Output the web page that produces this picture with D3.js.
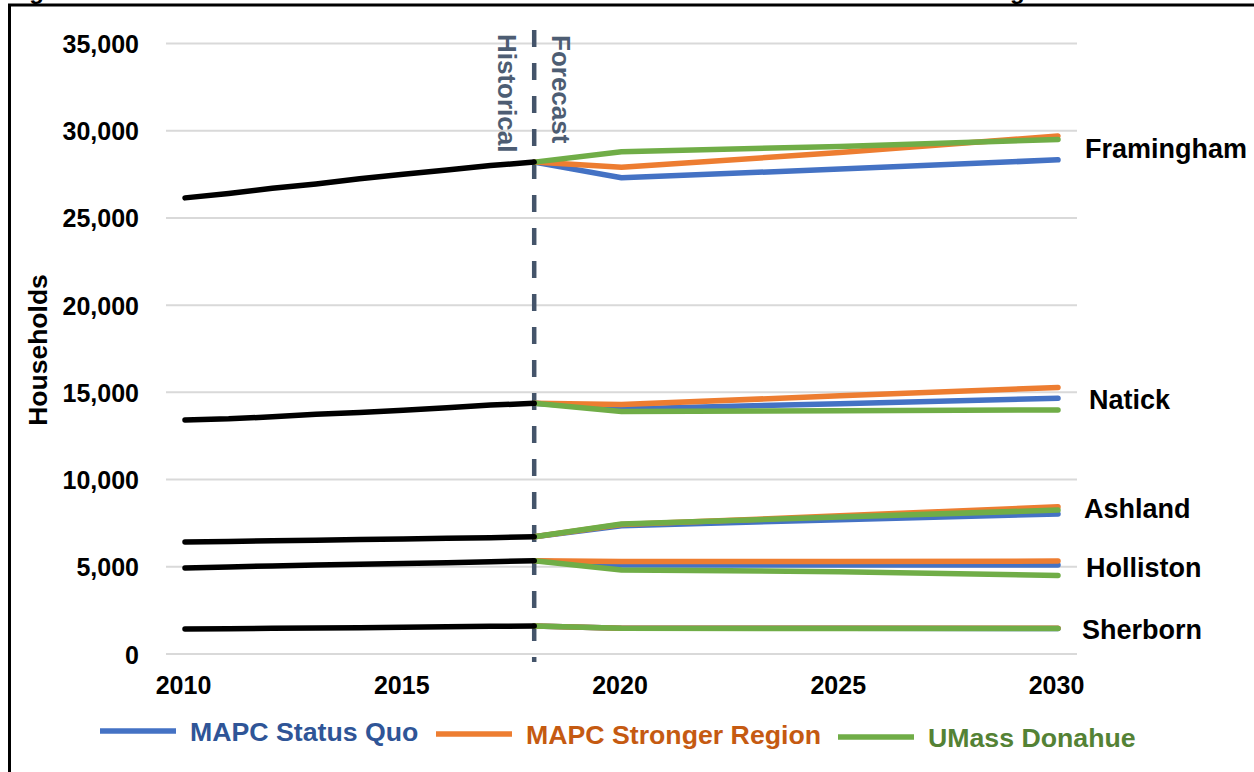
<!DOCTYPE html>
<html>
<head>
<meta charset="utf-8">
<script src="https://cdn.jsdelivr.net/npm/d3@7"></script>
<style>
  html, body { margin: 0; padding: 0; background: #fff; }
  svg { display: block; font-family: "Liberation Sans", Arial, sans-serif; }
</style>
</head>
<body>
<svg id="chart" width="1254" height="772"></svg>
<script>
// Historical household counts (2010–2018)
const histYears = [2010, 2011, 2012, 2013, 2014, 2015, 2016, 2017, 2018];
const framinghamHist = [26150, 26400, 26700, 26950, 27250, 27500, 27750, 28000, 28200];
const natickHist     = [13420, 13480, 13600, 13750, 13850, 13980, 14120, 14270, 14370];
const ashlandHist    = [6420, 6450, 6490, 6520, 6560, 6600, 6630, 6670, 6720];
const hollistonHist  = [4930, 4990, 5050, 5100, 5150, 5190, 5230, 5290, 5350];
const sherbornHist   = [1430, 1450, 1470, 1490, 1510, 1530, 1560, 1590, 1600];

// Forecast years and scenario values
const fcYears = [2018, 2020, 2025, 2030];
const framinghamSQ   = [28200, 27300, 27800, 28330];
const framinghamSR   = [28200, 27900, 28750, 29700];
const framinghamUM   = [28200, 28800, 29100, 29500];
const natickSQ       = [14370, 14050, 14350, 14660];
const natickSR       = [14370, 14300, 14800, 15280];
const natickUM       = [14370, 13900, 13950, 13990];
const ashlandSQ      = [6720, 7350, 7700, 8030];
const ashlandSR      = [6720, 7420, 7920, 8440];
const ashlandUM      = [6720, 7450, 7850, 8250];
const hollistonSQ    = [5350, 5100, 5100, 5100];
const hollistonSR    = [5350, 5300, 5300, 5330];
const hollistonUM    = [5350, 4820, 4720, 4500];
const sherbornSQ     = [1600, 1470, 1470, 1460];
const sherbornSR     = [1600, 1480, 1480, 1470];
const sherbornUM     = [1600, 1470, 1460, 1460];

const towns = ["Framingham", "Natick", "Ashland", "Holliston", "Sherborn"];
const scenarios = ["MAPC Status Quo", "MAPC Stronger Region", "UMass Donahue"];
const yTicks = [0, 5000, 10000, 15000, 20000, 25000, 30000, 35000];
const xTicks = [2010, 2015, 2020, 2025, 2030];
const splitYear = 2018;

const histSeries = [framinghamHist, natickHist, ashlandHist, hollistonHist, sherbornHist];
const fcSeries = [
  [framinghamSQ, framinghamSR, framinghamUM],
  [natickSQ, natickSR, natickUM],
  [ashlandSQ, ashlandSR, ashlandUM],
  [hollistonSQ, hollistonSR, hollistonUM],
  [sherbornSQ, sherbornSR, sherbornUM]
];

const lineColors = ["#4472C4", "#ED7D31", "#70AD47"];
const textColors = ["#2F5597", "#C55A11", "#548235"];

const svg = d3.select("#chart");

// Title sits above the frame and is clipped by the top edge
svg.append("text")
  .attr("x", 8).attr("y", -1)
  .attr("font-size", 24).attr("font-weight", "bold").attr("fill", "#000")
  .text("Figure 15: Historical and Forecasted Total Number of Households in the Town of Framingham");

// Frame
svg.append("rect")
  .attr("x", 9.5).attr("y", 5).attr("width", 1300).attr("height", 800)
  .attr("fill", "none").attr("stroke", "#000").attr("stroke-width", 3);

const x = d3.scaleLinear().domain([2010, 2030]).range([185, 1058]);
const y = d3.scaleLinear().domain([0, 35000]).range([654, 43.5]);
const gridLeft = 166, gridRight = 1077;

// Horizontal gridlines
svg.append("g").selectAll("line").data(yTicks).join("line")
  .attr("x1", gridLeft).attr("x2", gridRight)
  .attr("y1", d => y(d)).attr("y2", d => y(d))
  .attr("stroke", "#D9D9D9").attr("stroke-width", 2);

// Y axis labels
const yAxis = d3.axisLeft(y).tickValues(yTicks).tickSize(0).tickPadding(0)
  .tickFormat(d3.format(","));
const yg = svg.append("g").attr("transform", "translate(139,0)").call(yAxis);
yg.select(".domain").remove();
yg.selectAll("text").attr("font-size", 25).attr("font-weight", "bold")
  .attr("fill", "#000").attr("font-family", "Liberation Sans, Arial, sans-serif")
  .attr("dy", "0.36em");

// X axis labels
const xAxis = d3.axisBottom(x).tickValues(xTicks).tickSize(0).tickPadding(0)
  .tickFormat(d3.format("d"));
const xg = svg.append("g").attr("transform", "translate(-2,676)").call(xAxis);
xg.select(".domain").remove();
xg.selectAll("text").attr("font-size", 25).attr("font-weight", "bold")
  .attr("fill", "#000").attr("font-family", "Liberation Sans, Arial, sans-serif")
  .attr("dy", "0.71em");

// Y axis title
svg.append("text")
  .attr("transform", "translate(47,350) rotate(-90)")
  .attr("text-anchor", "middle")
  .attr("font-size", 26.5).attr("font-weight", "bold").attr("fill", "#000")
  .text("Households");

// Historical / forecast divider
svg.append("line")
  .attr("x1", x(splitYear)).attr("x2", x(splitYear))
  .attr("y1", 30).attr("y2", 662)
  .attr("stroke", "#44546A").attr("stroke-width", 4.5)
  .attr("stroke-dasharray", "17,16");

svg.append("text")
  .attr("transform", `translate(${x(splitYear) - 36},34) rotate(90)`)
  .attr("font-size", 26).attr("font-weight", "bold").attr("fill", "#4D5D73")
  .text("Historical");
svg.append("text")
  .attr("transform", `translate(${x(splitYear) + 18},35) rotate(90)`)
  .attr("font-size", 26).attr("font-weight", "bold").attr("fill", "#4D5D73")
  .text("Forecast");

const line = d3.line().x(d => x(d[0])).y(d => y(d[1]));

// Forecast scenario lines
const fcG = svg.append("g");
fcSeries.forEach(group => {
  group.forEach((vals, i) => {
    fcG.append("path")
      .attr("d", line(fcYears.map((yr, k) => [yr, vals[k]])))
      .attr("fill", "none").attr("stroke", lineColors[i])
      .attr("stroke-width", 5.5).attr("stroke-linecap", "round")
      .attr("stroke-linejoin", "round");
  });
});

// Historical lines
const histG = svg.append("g");
histSeries.forEach(vals => {
  histG.append("path")
    .attr("d", line(histYears.map((yr, k) => [yr, vals[k]])))
    .attr("fill", "none").attr("stroke", "#000")
    .attr("stroke-width", 5.5).attr("stroke-linecap", "round")
    .attr("stroke-linejoin", "round");
});

// Town labels
const townLabelPos = [
  { dx: 1085, v: 28980 },
  { dx: 1089, v: 14620 },
  { dx: 1084, v: 8370 },
  { dx: 1086, v: 4950 },
  { dx: 1082, v: 1430 }
];
svg.append("g").selectAll("text").data(towns).join("text")
  .attr("x", (d, i) => townLabelPos[i].dx)
  .attr("y", (d, i) => y(townLabelPos[i].v))
  .attr("dy", "0.36em")
  .attr("font-size", 27).attr("font-weight", "bold").attr("fill", "#000")
  .text(d => d);

// Legend
const legendItems = [
  { x: 100, y: 731 },
  { x: 436, y: 734 },
  { x: 838, y: 737 }
];
const lg = svg.append("g");
scenarios.forEach((s, i) => {
  const p = legendItems[i];
  lg.append("line")
    .attr("x1", p.x).attr("x2", p.x + 76)
    .attr("y1", p.y).attr("y2", p.y)
    .attr("stroke", lineColors[i]).attr("stroke-width", 5.5);
  lg.append("text")
    .attr("x", p.x + 90).attr("y", p.y).attr("dy", "0.36em")
    .attr("font-size", 26.7).attr("font-weight", "bold").attr("fill", textColors[i])
    .text(s);
});
</script>
</body>
</html>
